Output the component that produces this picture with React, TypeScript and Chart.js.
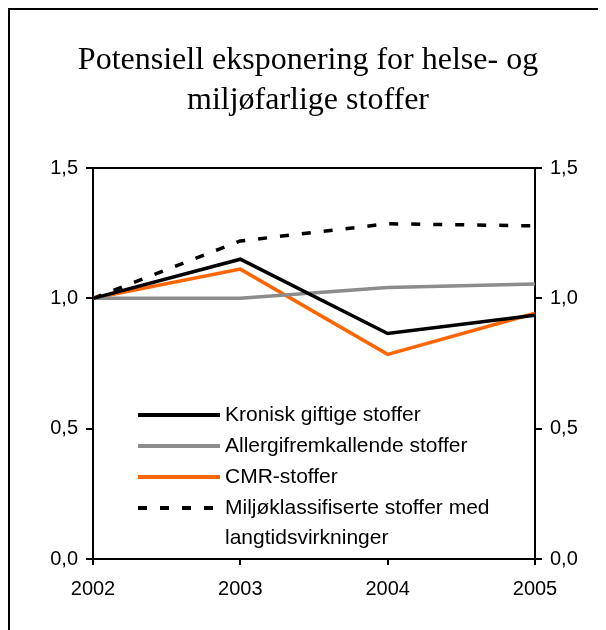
import React, { useEffect, useRef } from "react";
import { Chart, registerables } from "chart.js";

Chart.register(...registerables);

const years = ["2002", "2003", "2004", "2005"];
const kronisk = [1.0, 1.15, 0.865, 0.935];
const allergi = [1.0, 1.0, 1.042, 1.055];
const cmr = [1.0, 1.112, 0.785, 0.943];
const miljo = [1.0, 1.22, 1.286, 1.278];
const seriesLabels = [
  "Kronisk giftige stoffer",
  "Allergifremkallende stoffer",
  "CMR-stoffer",
  ["Miljøklassifiserte stoffer med", "langtidsvirkninger"],
];
const titleLines = ["Potensiell eksponering for helse- og", "miljøfarlige stoffer"];

const SANS = '"Liberation Sans", Arial, sans-serif';
const SERIF = '"Liberation Serif", "Times New Roman", serif';

const fmt = (v: number | string) => Number(v).toFixed(1).replace(".", ",");

const boxAndLegend = {
  id: "boxAndLegend",
  afterDraw(chart: any) {
    const { ctx, chartArea } = chart;
    ctx.save();
    // top border of plot area
    ctx.strokeStyle = "#000";
    ctx.lineWidth = 2;
    ctx.beginPath();
    ctx.moveTo(chartArea.left - 1, chartArea.top);
    ctx.lineTo(chartArea.right + 1, chartArea.top);
    ctx.stroke();

    // legend
    const x0 = chartArea.left + 45;
    const x1 = chartArea.left + 127;
    const tx = chartArea.left + 132;
    let y = chartArea.bottom - 144;
    ctx.font = `21px ${SANS}`;
    ctx.textBaseline = "middle";
    ctx.textAlign = "left";
    chart.data.datasets.forEach((ds: any) => {
      ctx.strokeStyle = ds.borderColor;
      ctx.lineWidth = 4;
      ctx.setLineDash(ds.borderDash || []);
      ctx.beginPath();
      ctx.moveTo(x0, y);
      ctx.lineTo(x1, y);
      ctx.stroke();
      ctx.setLineDash([]);
      ctx.fillStyle = "#000";
      const lines = Array.isArray(ds.label) ? ds.label : [ds.label];
      lines.forEach((t: string, i: number) => {
        ctx.fillText(t, tx, y + i * 30);
      });
      y += 31;
    });
    ctx.restore();
  },
};

export default function App() {
  const ref = useRef<HTMLCanvasElement | null>(null);
  useEffect(() => {
    if (!ref.current) return;
    const mkY = (pos: "left" | "right", width: number) => ({
      type: "linear" as const,
      position: pos,
      min: 0,
      max: 1.5,
      afterFit: (s: any) => {
        s.width = width;
      },
      ticks: {
        stepSize: 0.5,
        color: "#000",
        font: { family: SANS, size: 20 },
        padding: 8,
        callback: (v: any) => fmt(v),
      },
      grid: {
        display: true,
        drawOnChartArea: false,
        drawTicks: true,
        tickLength: 7,
        color: "#000",
        lineWidth: 2,
      },
      border: { display: true, color: "#000", width: 2 },
    });
    const chart = new Chart(ref.current, {
      type: "line",
      data: {
        labels: years,
        datasets: [
          { label: seriesLabels[0] as any, data: kronisk, borderColor: "#000000", borderWidth: 3.5, pointRadius: 0, yAxisID: "y" },
          { label: seriesLabels[1] as any, data: allergi, borderColor: "#8C8C8C", borderWidth: 3.5, pointRadius: 0, yAxisID: "y" },
          { label: seriesLabels[2] as any, data: cmr, borderColor: "#FF6600", borderWidth: 3.5, pointRadius: 0, yAxisID: "y" },
          { label: seriesLabels[3] as any, data: miljo, borderColor: "#000000", borderWidth: 3.5, borderDash: [9, 13], pointRadius: 0, yAxisID: "y" },
        ],
      },
      options: {
        animation: false,
        responsive: false,
        layout: { padding: 0 },
        plugins: {
          legend: { display: false },
          tooltip: { enabled: false },
          title: {
            display: true,
            text: titleLines,
            color: "#000",
            font: { family: SERIF, size: 32, weight: "normal", lineHeight: 1.25 },
            padding: { top: 31, bottom: 47 },
          },
        },
        scales: {
          x: {
            type: "category",
            offset: false,
            afterFit: (s: any) => {
              s.height = 71;
            },
            ticks: {
              color: "#000",
              font: { family: SANS, size: 20 },
              padding: 12,
              maxRotation: 0,
            },
            grid: {
              display: true,
              drawOnChartArea: false,
              drawTicks: true,
              tickLength: 6,
              color: "#000",
              lineWidth: 2,
            },
            border: { display: true, color: "#000", width: 2 },
          },
          y: mkY("left", 83),
          y2: mkY("right", 71),
        },
      },
      plugins: [boxAndLegend],
    });
    return () => chart.destroy();
  }, []);
  return (
    <div
      style={{
        position: "relative",
        width: 598,
        height: 622,
        borderLeft: "2px solid #000",
        borderTop: "2px solid #000",
        boxSizing: "border-box",
        background: "#fff",
        overflow: "hidden",
      }}
    >
      <canvas ref={ref} width={596} height={620} style={{ display: "block" }} />
    </div>
  );
}
